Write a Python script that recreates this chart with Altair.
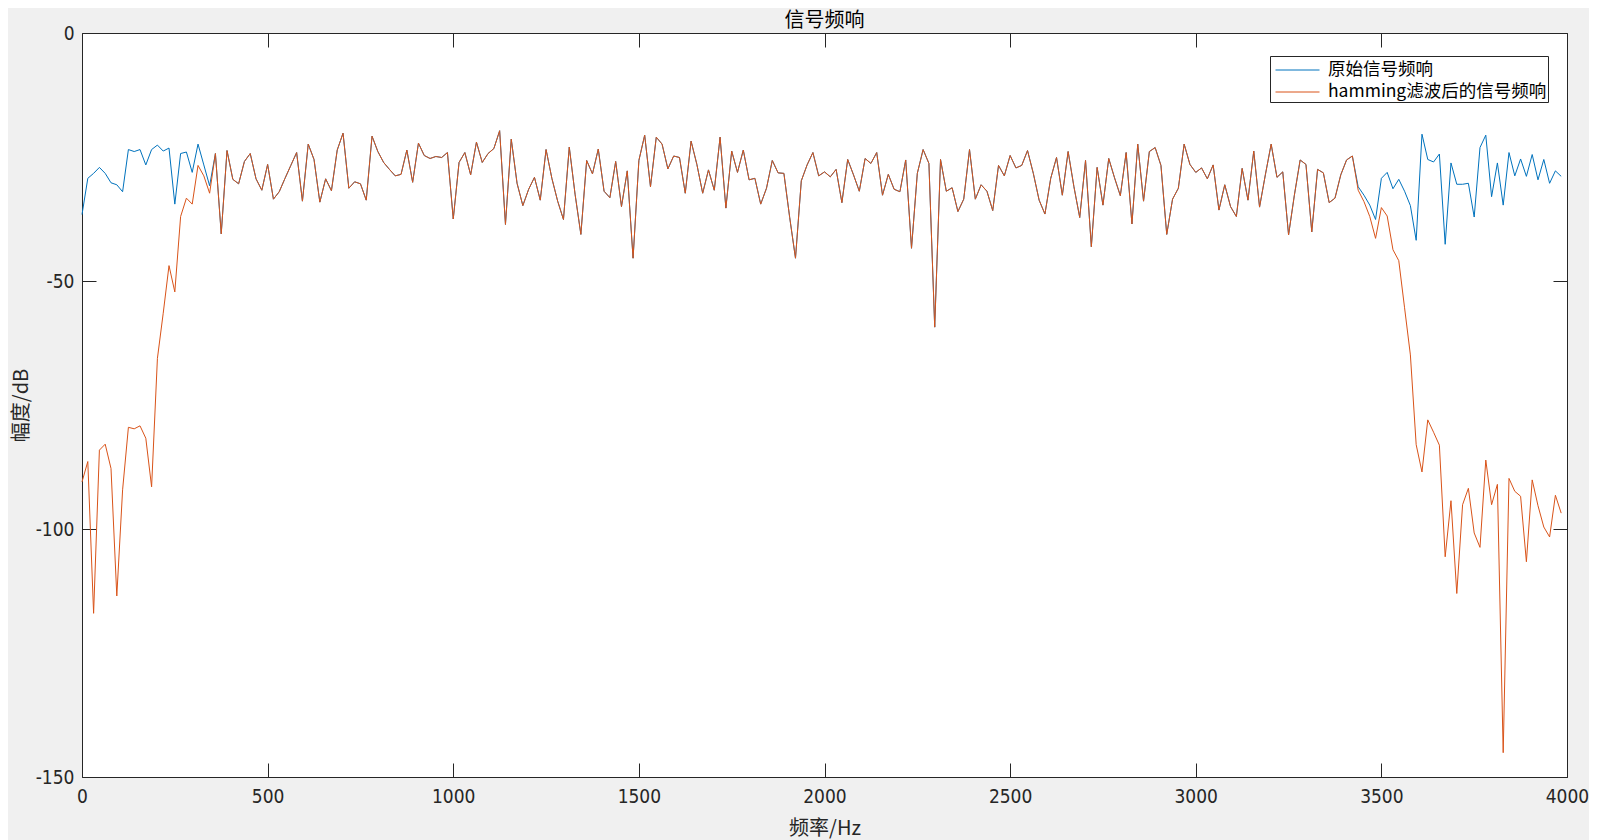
import altair as alt
import pandas as pd

# ---------------- data ----------------
SERIES = ["原始信号频响", "hamming滤波后的信号频响"]
N_BINS = 256
BIN_HZ = 4000 / N_BINS  # FFT bin spacing (Hz)

# filtered (hamming) response, dB, one value per bin
hamming_db = [
    -90.5, -86.4, -117.0, -84.1, -82.9, -87.8, -113.5, -92.1, -79.5, -79.8,
    -79.2, -81.7, -91.5, -65.6, -56.5, -46.9, -52.2, -37.0, -33.3, -34.5,
    -26.7, -28.8, -32.3, -24.3, -40.5, -23.7, -29.5, -30.4, -25.9, -24.3,
    -29.4, -31.7, -26.5, -33.5, -32.0, -29.3, -26.7, -24.1, -33.9, -22.4,
    -25.5, -34.1, -29.4, -31.8, -23.6, -20.2, -31.3, -30.0, -30.4, -33.7,
    -20.8, -23.9, -26.1, -27.5, -28.8, -28.5, -23.6, -30.1, -22.2, -24.7,
    -25.3, -24.9, -25.1, -24.1, -37.5, -26.1, -24.1, -28.6, -22.0, -26.1,
    -24.3, -23.3, -19.7, -38.6, -21.4, -30.3, -34.8, -31.5, -29.1, -33.7,
    -23.5, -29.3, -33.9, -37.6, -23.0, -32.5, -40.6, -25.7, -28.4, -23.4,
    -31.9, -33.2, -25.9, -35.0, -27.8, -45.4, -25.7, -20.6, -31.0, -21.0,
    -22.4, -27.4, -24.8, -25.1, -32.3, -21.8, -26.5, -32.3, -27.6, -31.7,
    -21.0, -35.3, -23.8, -28.1, -23.6, -29.6, -29.3, -34.5, -31.3, -25.7,
    -28.2, -28.3, -37.2, -45.4, -29.8, -26.6, -24.1, -28.8, -28.0, -29.0,
    -27.5, -34.2, -25.5, -28.6, -31.9, -25.3, -26.3, -24.1, -32.7, -28.5,
    -31.5, -32.0, -25.6, -43.4, -28.3, -23.5, -26.3, -59.3, -25.5, -31.9,
    -31.2, -36.0, -33.5, -23.5, -33.5, -30.6, -31.9, -35.8, -26.7, -28.8,
    -24.7, -27.2, -26.7, -23.7, -28.3, -33.7, -36.5, -29.3, -25.1, -32.7,
    -23.9, -31.0, -37.2, -25.7, -43.1, -27.1, -34.7, -25.3, -29.2, -32.8,
    -24.1, -38.5, -22.4, -33.9, -23.9, -23.1, -26.7, -40.6, -33.5, -31.3,
    -22.4, -26.5, -28.1, -27.2, -29.4, -26.6, -35.7, -30.6, -35.0, -37.0,
    -27.3, -33.7, -23.8, -35.1, -28.6, -22.4, -29.1, -28.0, -40.7, -32.7,
    -25.6, -26.5, -40.1, -27.5, -28.2, -34.2, -33.3, -28.6, -25.6, -24.8,
    -31.7, -34.0, -37.0, -41.4, -35.2, -36.9, -43.7, -45.9, -55.4, -64.9,
    -83.0, -88.5, -78.0, -80.5, -83.1, -105.6, -94.3, -113.0, -95.1, -91.8,
    -100.8, -103.7, -86.1, -95.1, -91.0, -145.1, -89.8, -92.4, -93.4, -106.6,
    -90.1, -95.3, -99.6, -101.6, -93.2, -96.8,
]

# original response: differs from the filtered one only at both ends
original_low_db = [
    -36.6, -29.3, -28.3, -27.1, -28.3, -30.2, -30.6, -32.0, -23.5, -23.9,
    -23.5, -26.6, -23.5, -22.6, -23.8, -23.2, -34.5, -24.3, -24.0, -28.1,
    -22.4, -26.6, -30.8,
]
original_high_db = [
    -31.0, -32.7, -34.7, -37.6, -29.3, -28.1, -31.4, -29.5, -31.9, -34.8,
    -41.8, -20.4, -25.5, -26.0, -24.4, -42.6, -26.2, -30.5, -30.5, -30.3,
    -37.1, -23.1, -20.6, -33.0, -26.2, -34.7, -24.1, -28.8, -25.4, -28.9,
    -24.5, -29.6, -25.5, -30.3, -27.8, -28.9,
]
n_mid = N_BINS - len(original_low_db) - len(original_high_db)
original_db = (original_low_db
               + hamming_db[len(original_low_db):len(original_low_db) + n_mid]
               + original_high_db)

X_TICKS = [0, 500, 1000, 1500, 2000, 2500, 3000, 3500, 4000]
Y_TICKS = [0, -50, -100, -150]

freq = [k * BIN_HZ for k in range(N_BINS)]
df = pd.DataFrame({
    "freq": freq + freq,
    "db": original_db + hamming_db,
    "series": [SERIES[0]] * N_BINS + [SERIES[1]] * N_BINS,
})

# ---------------- style ----------------
W, H = 1485, 744
CJK = "Noto Sans CJK SC"
NUM = "Liberation Sans Narrow, DejaVu Sans Condensed, Liberation Sans, Arial"
AX = "#262626"

xs = alt.Scale(domain=[0, 4000], nice=False, zero=False)
ys = alt.Scale(domain=[-150, 0], nice=False, zero=False)

color = alt.Color(
    "series:N",
    scale=alt.Scale(domain=SERIES, range=["#0072BD", "#D95319"]),
    legend=alt.Legend(
        title=None, orient="none", legendX=1188, legendY=23,
        direction="vertical",
        symbolType="M-0.68,0L2.84,0", symbolSize=625, symbolStrokeWidth=1,
        labelOffset=31, labelFont=CJK, labelFontSize=17.5, labelColor="#000000",
        labelLimit=500, fillColor="#ffffff", strokeColor=AX, padding=1,
        rowPadding=0, labelExpr="datum.label + '\u00a0'",
    ),
)

# label axes (bottom/left), no ticks
x_lab = alt.X("freq:Q", scale=xs, title="频率/Hz", axis=alt.Axis(
    orient="bottom", values=X_TICKS, ticks=False, domain=False, grid=False,
    labelPadding=10, labelFlush=False, labelFont=NUM, labelFontSize=19,
    labelColor=AX, titleFont=CJK, titleFontSize=20, titleFontWeight="normal",
    titleColor=AX, titleY=51, titleBaseline="middle",
    labelExpr="'' + datum.value"))
y_lab = alt.Y("db:Q", scale=ys, title="幅度/dB", axis=alt.Axis(
    orient="left", values=Y_TICKS, ticks=False, domain=False, grid=False,
    labelPadding=8, labelFlush=False, labelFont=NUM, labelFontSize=19,
    labelColor=AX, titleFont=CJK, titleFontSize=20, titleFontWeight="normal",
    titleColor=AX, titleX=-61, titleY=H / 2, titleAngle=-90,
    titleBaseline="middle", titleAlign="center",
    labelExpr="'' + datum.value"))

def tick_axis(orient, offset, values):
    return alt.Axis(orient=orient, offset=offset, values=values, labels=False,
                    domain=False, grid=False, ticks=True, tickSize=14,
                    tickColor=AX, tickWidth=1)

# inward ticks: axes pushed to the opposite edge
x_in_bottom = alt.X("freq:Q", scale=xs, title=None, axis=tick_axis("top", -H, X_TICKS))
y_in_left = alt.Y("db:Q", scale=ys, title=None, axis=tick_axis("right", -W, Y_TICKS))
x_in_top = alt.X("freq:Q", scale=xs, title=None, axis=tick_axis("bottom", -H, X_TICKS))
y_in_right = alt.Y("db:Q", scale=ys, title=None, axis=tick_axis("left", -W, Y_TICKS))

base = alt.Chart(df)
orig = base.transform_filter(alt.datum.series == SERIES[0]).mark_line(
    strokeWidth=1).encode(x=x_lab, y=y_lab, color=color)
ghost = base.transform_filter(alt.datum.series == SERIES[1]).mark_line(
    opacity=0).encode(x=x_in_top, y=y_in_right)
filt = base.transform_filter(alt.datum.series == SERIES[1]).mark_line(
    strokeWidth=1).encode(x=x_in_bottom, y=y_in_left, color=color)

chart = alt.layer(orig, ghost, filt).resolve_axis(
    x="independent", y="independent"
).properties(
    width=W, height=H,
    title=alt.TitleParams("信号频响", font=CJK, fontSize=20, fontWeight="normal",
                          color="#000000", anchor="middle", frame="group",
                          offset=6, dy=13),
    autosize=alt.AutoSizeParams(type="none"),
    padding={"left": 74, "top": 25, "right": 22, "bottom": 63},
).configure(
    background="#f0f0f0",
).configure_view(
    fill="#ffffff", stroke=AX, strokeWidth=1,
).configure_legend(
    strokeWidth=1,
)

chart.save("out.html", embed_options={"renderer": "svg", "actions": False})
